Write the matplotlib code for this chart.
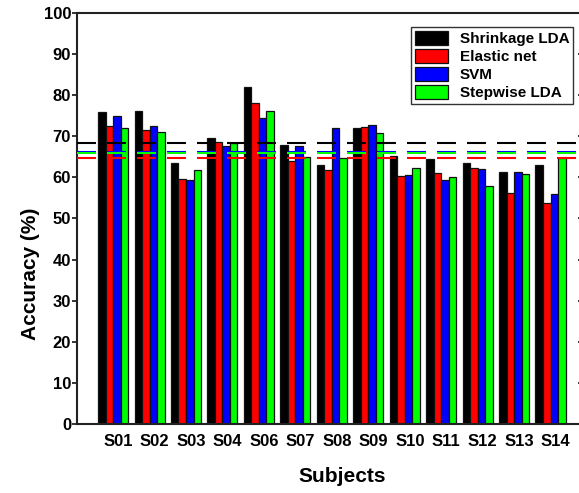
import numpy as np
import matplotlib
matplotlib.use("Agg")
import matplotlib.pyplot as plt

plt.rcParams['font.family'] = ['Liberation Sans', 'DejaVu Sans']
plt.rcParams['font.weight'] = 'bold'

subjects = ["S01", "S02", "S03", "S04", "S06", "S07", "S08", "S09",
            "S10", "S11", "S12", "S13", "S14"]
shrinkage_lda = [75.9, 76.2, 63.5, 69.7, 81.9, 67.9, 62.9, 72.1, 65.3, 64.4, 63.5, 61.3, 62.9]
elastic_net = [72.4, 71.6, 59.7, 68.7, 78.1, 64.1, 61.9, 72.3, 60.3, 61.1, 62.4, 56.2, 53.8]
svm = [74.9, 72.6, 59.4, 67.7, 74.4, 67.6, 72.0, 72.7, 60.7, 59.3, 62.0, 61.4, 55.9]
stepwise_lda = [72.0, 71.0, 61.7, 68.4, 76.2, 64.9, 64.6, 70.9, 62.3, 60.2, 57.9, 60.8, 64.8]

series = [
    ("Shrinkage LDA", shrinkage_lda, "#000000"),
    ("Elastic net", elastic_net, "#ff0000"),
    ("SVM", svm, "#0000ff"),
    ("Stepwise LDA", stepwise_lda, "#00ff00"),
]

fig = plt.figure(figsize=(5.79, 4.93), dpi=100)
ax = fig.add_axes([77 / 579, 1 - 424 / 493, 504.5 / 579, 411 / 493])

x = np.arange(len(subjects))
width = 0.206
for i, (name, vals, col) in enumerate(series):
    ax.bar(x + (i - 1.5) * width, vals, width, color=col, edgecolor="#111111",
           linewidth=0.9, label=name, zorder=2)

# dashed lines at the mean accuracy of each method
for name, vals, col in series:
    ax.axhline(np.mean(vals), color=col, linewidth=1.5,
               linestyle=(0, (9.1, 5.3)), zorder=3)

ax.set_xlim(-0.99, len(subjects) - 1 + 0.85)
ax.set_ylim(0, 100)
ax.set_yticks(np.arange(0, 101, 10))
ax.set_xticks(x + 0.14)
ax.set_xticklabels(subjects, fontsize=12, fontweight='bold')
ax.tick_params(axis='x', length=0, pad=7)
ax.tick_params(axis='y', which='both', direction='out', length=3.3, width=1.1,
               labelsize=12, pad=1, right=False)
for lab in ax.get_yticklabels():
    lab.set_fontweight('bold')

# right-side ticks point inward
sec = ax.secondary_yaxis('right')
sec.set_yticks(np.arange(0, 101, 10))
sec.tick_params(direction='in', length=3, width=1.1, labelright=False)
sec.spines['right'].set_visible(False)

for sp in ax.spines.values():
    sp.set_linewidth(1.5)
    sp.set_color("#222222")
ax.spines['right'].set_visible(False)

ax.set_xlabel("Subjects", fontsize=15, fontweight='bold')
ax.xaxis.set_label_coords(0.525, -0.105)
ax.set_ylabel("Accuracy (%)", fontsize=15, fontweight='bold')
ax.yaxis.set_label_coords(-0.073, 0.365)

leg = ax.legend(loc='upper right', bbox_to_anchor=(0.9837, 0.966),
                borderaxespad=0, frameon=True, fancybox=False,
                edgecolor='black', handlelength=2.2, handleheight=1.1,
                labelspacing=0.16, handletextpad=0.75, borderpad=0.25,
                prop={'weight': 'bold', 'size': 11})
leg.get_frame().set_linewidth(1.0)

fig.savefig("out.png", dpi=100)
